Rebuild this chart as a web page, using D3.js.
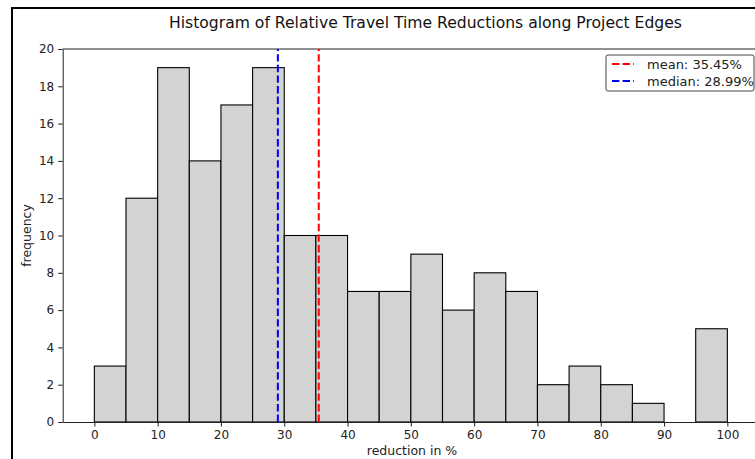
<!DOCTYPE html>
<html>
<head>
<meta charset="utf-8">
<script src="https://cdn.jsdelivr.net/npm/d3@7"></script>
<style>
  body { margin: 0; background: #fff; }
  svg { font-family: "DejaVu Sans", sans-serif; }
</style>
</head>
<body>
<script>
// histogram bins (left edge, 5 wide) and counts
const binEdges = [0, 5, 10, 15, 20, 25, 30, 35, 40, 45, 50, 55, 60, 65, 70, 75, 80, 85, 90, 95];
const counts = [3, 12, 19, 14, 17, 19, 10, 10, 7, 7, 9, 6, 8, 7, 2, 3, 2, 1, 0, 5];
const binWidth = 5;
const xTicks = [0, 10, 20, 30, 40, 50, 60, 70, 80, 90, 100];
const yTicks = [0, 2, 4, 6, 8, 10, 12, 14, 16, 18, 20];
const meanVal = 35.45;
const medianVal = 28.99;

const W = 755, H = 459;
const svg = d3.select('body').append('svg')
  .attr('width', W)
  .attr('height', H);

// figure frame
svg.append('rect')
  .attr('x', 12).attr('y', 8)
  .attr('width', 800).attr('height', 500)
  .attr('fill', '#fff')
  .attr('stroke', '#000')
  .attr('stroke-width', 2);

const x = d3.scaleLinear().domain([-5, 105]).range([62.7, 759]);
const y = d3.scaleLinear().domain([0, 20]).range([422, 49]);

const data = binEdges.map((e, i) => ({ x0: e, n: counts[i] }));

svg.append('g')
  .selectAll('rect')
  .data(data.filter(d => d.n > 0))
  .enter()
  .append('rect')
  .attr('x', d => x(d.x0))
  .attr('y', d => y(d.n))
  .attr('width', d => x(d.x0 + binWidth) - x(d.x0))
  .attr('height', d => y(0) - y(d.n))
  .attr('fill', '#d3d3d3')
  .attr('stroke', '#000')
  .attr('stroke-width', 1.1);

// axes
const xAxis = svg.append('g')
  .attr('transform', `translate(0,${y(0)})`)
  .call(d3.axisBottom(x).tickValues(xTicks).tickSize(4.5).tickPadding(4).tickSizeOuter(0));
const yAxis = svg.append('g')
  .attr('transform', `translate(${x(-5)},0)`)
  .call(d3.axisLeft(y).tickValues(yTicks).tickSize(4.5).tickPadding(4).tickSizeOuter(0));
[xAxis, yAxis].forEach(a => {
  a.selectAll('text').attr('font-size', 12).attr('font-family', 'DejaVu Sans').attr('fill', '#222');
  a.selectAll('line').attr('stroke', '#222').attr('stroke-width', 1);
  a.select('.domain').attr('stroke', '#222').attr('stroke-width', 1);
});

// top spine
svg.append('line')
  .attr('x1', x(-5)).attr('x2', x(105))
  .attr('y1', y(20)).attr('y2', y(20))
  .attr('stroke', '#222').attr('stroke-width', 1);

// mean / median
const refLines = [
  { v: meanVal, color: '#ff0000', label: 'mean: 35.45%' },
  { v: medianVal, color: '#0000ff', label: 'median: 28.99%' }
];
svg.append('g')
  .selectAll('line')
  .data(refLines)
  .enter()
  .append('line')
  .attr('x1', d => x(d.v)).attr('x2', d => x(d.v))
  .attr('y1', y(0)).attr('y2', y(20))
  .attr('stroke', d => d.color)
  .attr('stroke-width', 2)
  .attr('stroke-dasharray', '7.4,3.2');

// legend
const lg = svg.append('g').attr('transform', 'translate(606,55)');
lg.append('rect')
  .attr('width', 148).attr('height', 36)
  .attr('rx', 2)
  .attr('fill', '#fff')
  .attr('stroke', '#444')
  .attr('stroke-width', 1);
refLines.forEach((d, i) => {
  const yy = 9 + i * 17;
  lg.append('line')
    .attr('x1', 6).attr('x2', 28)
    .attr('y1', yy).attr('y2', yy)
    .attr('stroke', d.color)
    .attr('stroke-width', 2)
    .attr('stroke-dasharray', '7.4,3.2');
  lg.append('text')
    .attr('x', 41).attr('y', yy + 5)
    .attr('font-size', 13)
    .attr('fill', '#222')
    .text(d.label);
});

// title and labels
svg.append('text')
  .attr('x', 425.5)
  .attr('y', 28)
  .attr('text-anchor', 'middle')
  .attr('font-size', 15.6)
  .attr('fill', '#111')
  .text('Histogram of Relative Travel Time Reductions along Project Edges');

svg.append('text')
  .attr('x', 412)
  .attr('y', 455)
  .attr('text-anchor', 'middle')
  .attr('font-size', 12.5)
  .attr('fill', '#222')
  .text('reduction in %');

svg.append('text')
  .attr('transform', `translate(31,${(y(0) + y(20)) / 2}) rotate(-90)`)
  .attr('text-anchor', 'middle')
  .attr('font-size', 12.5)
  .attr('fill', '#222')
  .text('frequency');
</script>
</body>
</html>
